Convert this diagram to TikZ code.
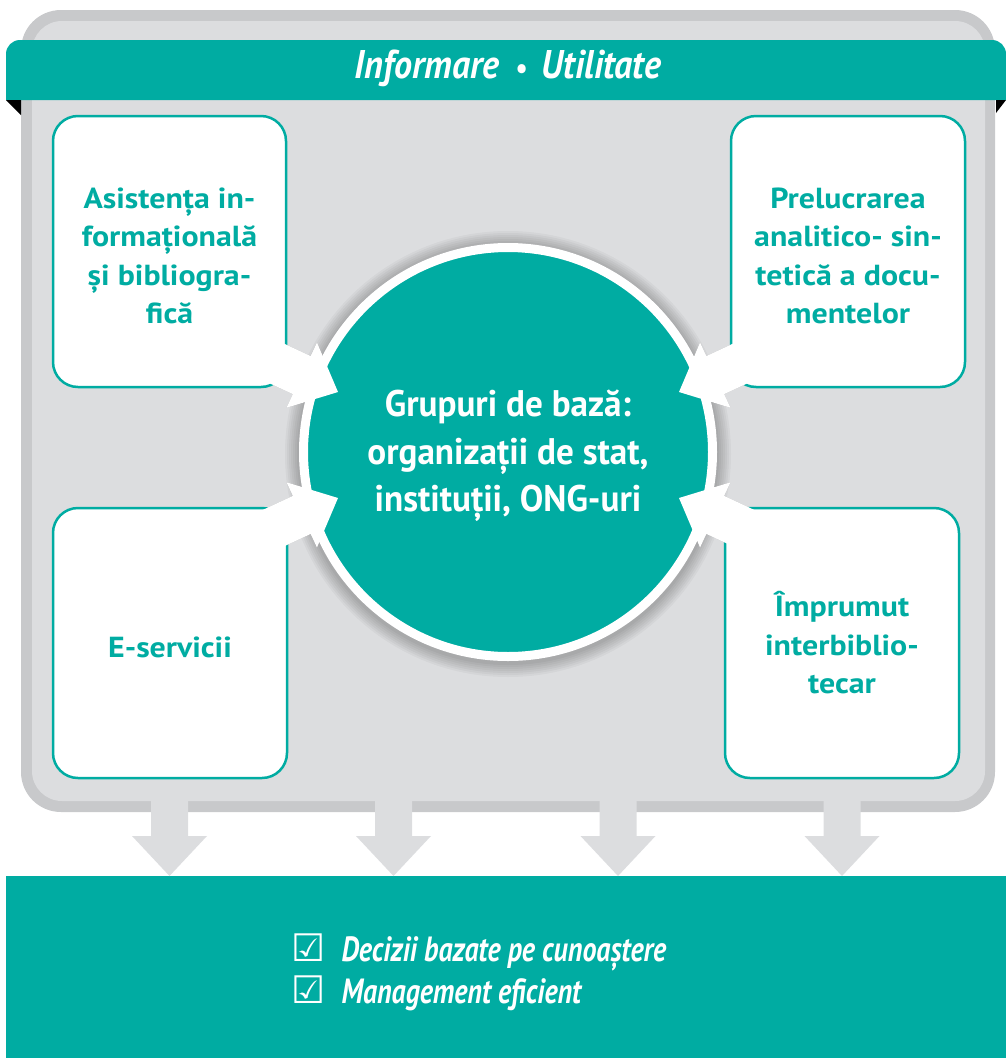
\documentclass[tikz,border=0pt]{standalone}
\usepackage{fontspec}
\setmainfont{PT Sans}
\newfontfamily\boxf[FakeStretch=1.1]{PT Sans}
\newfontfamily\condA[FakeStretch=0.95]{PT Sans}
\newfontfamily\condB[FakeStretch=0.9]{PT Sans}
\newfontfamily\condC[FakeStretch=0.8]{PT Sans}
\newfontfamily\symf{DejaVu Sans}
\definecolor{tealc}{RGB}{0,172,162}
\definecolor{pfill}{RGB}{220,221,223}
\definecolor{pborder}{RGB}{200,201,203}
\tikzset{
  infobox/.style={draw=tealc, line width=2.5pt, fill=white, rounded corners=25pt,
    text=tealc, align=center, inner sep=0pt,
    font=\boxf\bfseries\fontsize{29}{38.5}\selectfont},
  hubcircle/.style={circle, fill=tealc, draw=white, line width=9pt, minimum size=409pt},
  wharrow/.style={fill=white},
  downarrow/.style={fill=pfill}
}
\newcommand{\arrowshape}{(0,0) -- (-40,36) -- (-40,21) -- (-118,21) -- (-118,-21) -- (-40,-21) -- (-40,-36) -- cycle}
\begin{document}
\begin{tikzpicture}[x=1pt,y=-1pt]
\useasboundingbox (0,0) rectangle (1006,1058);
% panel
\fill[pborder, rounded corners=40pt] (21,10) rectangle (995,812);
\fill[pfill, rounded corners=30pt] (32,21) rectangle (985,801);
% banner
\fill[tealc] (6,100) {[rounded corners=14pt] -- (6,40) -- (1006,40)} -- (1006,100) -- cycle;
\fill[black] (6,100) -- (21,100) -- (21,115) -- cycle;
\fill[black] (996,100) -- (1006,100) -- (996,113) -- cycle;
\node[text=white, font=\condB\bfseries\itshape\fontsize{40}{40}\selectfont] (title) at (508,68)
  {Informare\hspace{16pt}{\fontsize{30}{30}\selectfont\upshape\textbullet}\hspace{14pt}Utilitate};
% arrow tips
\coordinate (t1) at (338,392);
\coordinate (t2) at (679,392);
\coordinate (t3) at (338,498);
\coordinate (t4) at (679,498);
% arrow shadows (under boxes and circle)
\foreach \t/\a in {t1/-25, t2/205, t3/25, t4/155}{
  \foreach \d in {2,3.5,5}
    \fill[black, opacity=0.06, shift={(0,\d)}] [shift={(\t)}, rotate=\a] \arrowshape;
}
% boxes
\node[infobox, minimum width=233pt, minimum height=271pt] (b1) at (169.5,251.5)
  {\rule{0pt}{29pt}Asistența in-\\formațională\\și bibliogra-\\fică};
\node[infobox, minimum width=234pt, minimum height=271pt] (b2) at (848,251.5)
  {\rule{0pt}{29pt}Prelucrarea\\analitico- sin-\\tetică a docu-\\mentelor};
\node[infobox, minimum width=234pt, minimum height=270pt] (b3) at (170,643)
  {\rule{0pt}{29pt}E-servicii};
\node[infobox, minimum width=234pt, minimum height=270pt] (b4) at (842,643)
  {Împrumut\\interbiblio-\\tecar};
% circle shadow
\foreach \r in {211,213,215,217,219,221,223}
  \fill[black, opacity=0.035] (508,454) circle (\r pt);
% circle
\node[hubcircle] (hub) at (508,452) {};
% white arrows from boxes to hub
\foreach \t/\a in {t1/-25, t2/205, t3/25, t4/155}
  \fill[wharrow] [shift={(\t)}, rotate=\a] \arrowshape;
\node[text=white, align=center, font=\condA\bfseries\fontsize{37}{47.5}\selectfont] (hubtext) at (508,456)
  {Grupuri de bază:\\organizații de stat,\\instituții, ONG-uri};
% bottom band
\fill[tealc] (6,876) rectangle (1006,1058);
% down arrows
\foreach \cx in {169.5,393.5,618,842}
  \fill[downarrow] (\cx-18.5,800) -- (\cx+18.5,800) -- (\cx+18.5,836) -- (\cx+37.5,836)
    -- (\cx,876) -- (\cx-37.5,836) -- (\cx-18.5,836) -- cycle;
% results
\node[text=white, anchor=west, font=\condC\bfseries\itshape\fontsize{35}{40}\selectfont] (r1) at (288,952)
  {\makebox[50pt][l]{\symf\bfseries\upshape\fontsize{38}{38}\selectfont ☑}Decizii bazate pe cunoaștere};
\node[text=white, anchor=west, font=\condC\bfseries\itshape\fontsize{35}{40}\selectfont] (r2) at (288,993)
  {\makebox[50pt][l]{\symf\bfseries\upshape\fontsize{38}{38}\selectfont ☑}Management eficient};
\end{tikzpicture}
\end{document}
